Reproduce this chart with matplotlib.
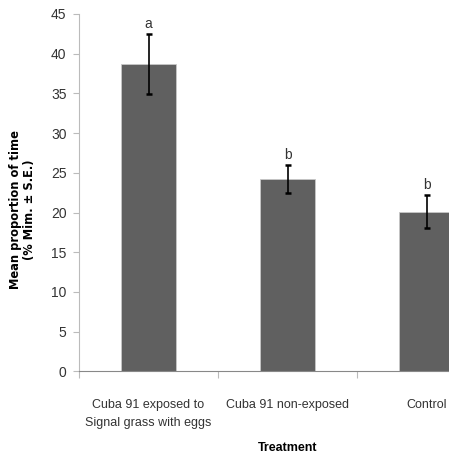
import numpy as np
import matplotlib.pyplot as plt

# Treatment categories and means (% mimicry) with standard errors
treatments = ['Cuba 91 exposed to\nSignal grass with eggs', 'Cuba 91 non-exposed', 'Control']
means = [38.7, 24.2, 20.1]
se = [3.8, 1.8, 2.05]
letters = ['a', 'b', 'b']

plt.rcParams['font.family'] = ['Liberation Sans', 'DejaVu Sans']

fig = plt.figure(figsize=(4.49, 4.58), dpi=100)
# axes run past the right edge, like the cropped original
ax = fig.add_axes([0.176, 0.189, 0.929, 0.7806])

x = np.arange(len(treatments))
ax.bar(x, means, width=0.4, color='#606060', edgecolor='#c8c8c8', linewidth=0.6, zorder=2)
ax.errorbar(x, means, yerr=se, fmt='none', ecolor='black', elinewidth=1.2,
            capsize=2.3, capthick=1.8, zorder=3)

for xi, m, s, lab in zip(x, means, se, letters):
    ax.text(xi, m + s + 0.4, lab, ha='center', va='bottom', fontsize=10, color='#333333')

ax.set_xlim(-0.5, 2.5)
ax.set_ylim(0, 45)
ax.set_yticks(np.arange(0, 46, 5))
ax.tick_params(axis='y', labelsize=10, length=4, color='#bbbbbb', labelcolor='#333333', pad=5)

# category labels centred, tick marks on the boundaries
ax.set_xticks([-0.5, 0.5, 1.5, 2.5])
ax.set_xticklabels([])
ax.tick_params(axis='x', length=5, color='#bbbbbb')
ax.set_xticks(x, minor=True)
ax.set_xticklabels(treatments, minor=True, fontsize=9, color='#333333', linespacing=1.65)
ax.tick_params(axis='x', which='minor', length=0, pad=20)

for side in ['top', 'right']:
    ax.spines[side].set_visible(False)
ax.spines['left'].set_color('#bbbbbb')
ax.spines['bottom'].set_color('#888888')

fig.text(23 / 449, 1 - 210 / 458, 'Mean proportion of time\n(% Mim. ± S.E.)', rotation=90,
         ha='center', va='center', fontsize=8.3, fontweight='bold', family='DejaVu Sans',
         linespacing=1.1)
fig.text(288 / 449, 1 - 448 / 458, 'Treatment', ha='center', va='center',
         fontsize=9, fontweight='bold')

fig.savefig('out.png', dpi=100)
